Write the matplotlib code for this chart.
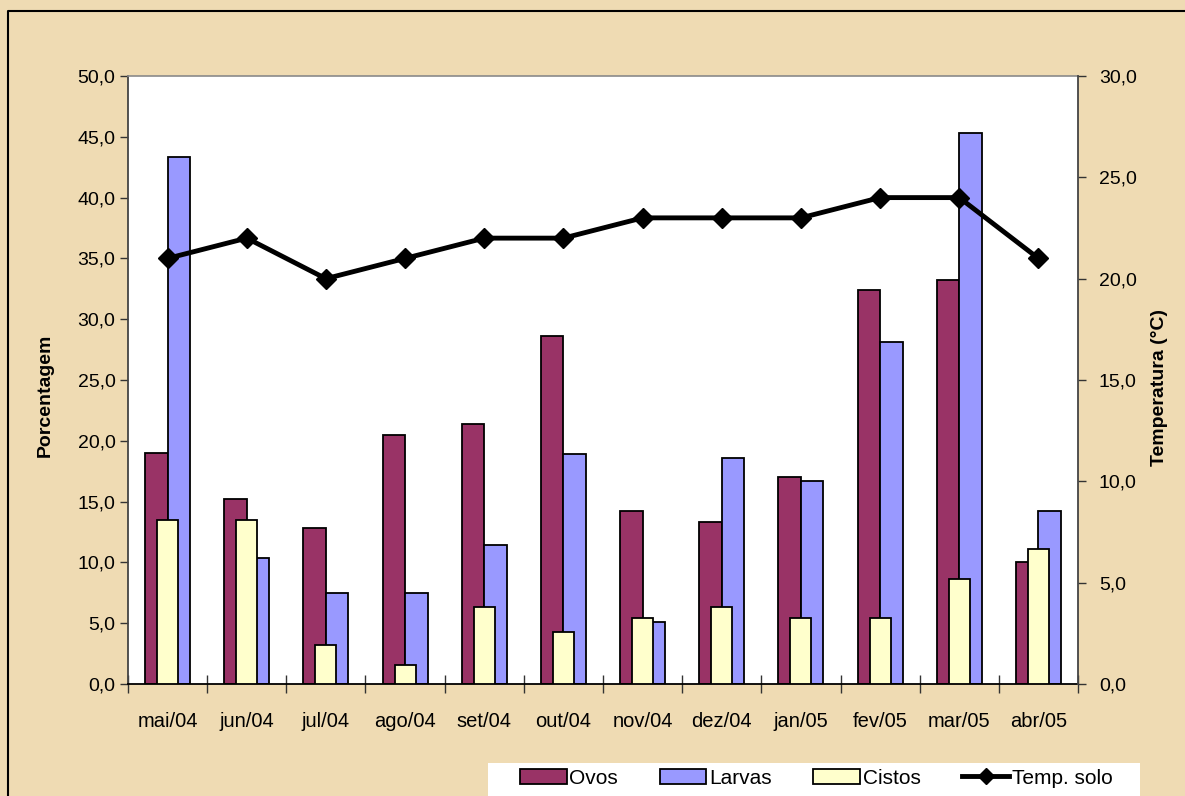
import matplotlib
matplotlib.use("Agg")
import matplotlib.pyplot as plt
from matplotlib.lines import Line2D
from matplotlib.patches import Patch, Rectangle
import numpy as np

plt.rcParams['font.family'] = ['Liberation Sans', 'DejaVu Sans']

# Monthly sampling
meses = ["mai/04", "jun/04", "jul/04", "ago/04", "set/04", "out/04",
         "nov/04", "dez/04", "jan/05", "fev/05", "mar/05", "abr/05"]

# Percentages per developmental stage
ovos = [19.0, 15.2, 12.8, 20.5, 21.4, 28.6, 14.2, 13.3, 17.0, 32.4, 33.2, 10.0]
larvas = [43.3, 10.4, 7.5, 7.5, 11.4, 18.9, 5.1, 18.6, 16.7, 28.1, 45.3, 14.2]
cistos = [13.5, 13.5, 3.2, 1.6, 6.3, 4.3, 5.4, 6.3, 5.4, 5.4, 8.6, 11.1]

# Soil temperature (°C)
temp_solo = [21.0, 22.0, 20.0, 21.0, 22.0, 22.0, 23.0, 23.0, 23.0, 24.0, 24.0, 21.0]

y_ticks = [0, 5, 10, 15, 20, 25, 30, 35, 40, 45, 50]
y2_ticks = [0, 5, 10, 15, 20, 25, 30]

C_OVOS = "#993366"
C_LARVAS = "#9999FF"
C_CISTOS = "#FFFFCC"
BG = "#EFDBB3"

W, H = 1185, 796
fig = plt.figure(figsize=(W / 100, H / 100), dpi=100)
fig.patch.set_facecolor(BG)

# chart-area frame (left and top edges)
fig.add_artist(Line2D([8 / W, 8 / W, 1.0], [0.0, 1 - 11 / H, 1 - 11 / H],
                      transform=fig.transFigure, color="black", lw=1.5))

ax = fig.add_axes([128 / W, 1 - 684 / H, 950 / W, 608 / H])
ax.set_facecolor("white")

x = np.arange(len(meses))
bw = 0.284
ax.bar(x - bw / 2, ovos, width=bw, color=C_OVOS, edgecolor="black", lw=1.3, zorder=2)
ax.bar(x + bw / 2, larvas, width=bw, color=C_LARVAS, edgecolor="black", lw=1.3, zorder=2)
ax.bar(x, cistos, width=0.265, color=C_CISTOS, edgecolor="black", lw=1.3, zorder=3)

ax.set_xlim(-0.5, len(meses) - 0.5)
ax.set_ylim(0, 50)
ax.set_yticks(y_ticks)
ax.set_yticklabels([f"{v:.1f}".replace(".", ",") for v in y_ticks], fontsize=14)
ax.tick_params(axis="y", direction="out", length=6, width=1, pad=3, color="#333333")

ax.set_xticks(x)
ax.set_xticklabels(meses, fontsize=14.5)
ax.tick_params(axis="x", which="major", length=0, pad=20)
ax.set_xticks(np.arange(-0.5, len(meses)), minor=True)
ax.tick_params(axis="x", which="minor", direction="inout", length=13, width=1, color="#333333")

ax.spines["top"].set_color("#8a8a8a")
ax.spines["top"].set_linewidth(1.2)
ax.spines["left"].set_color("#444444")
ax.spines["left"].set_linewidth(1.3)
ax.spines["bottom"].set_color("black")
ax.spines["bottom"].set_linewidth(1.3)
ax.spines["right"].set_visible(False)

ax2 = ax.twinx()
ax2.plot(x, temp_solo, color="black", lw=3.5, marker="D", markersize=10,
         markerfacecolor="black", zorder=5)
ax2.set_ylim(0, 30)
ax2.set_yticks(y2_ticks)
ax2.set_yticklabels([f"{v:.1f}".replace(".", ",") for v in y2_ticks], fontsize=14)
ax2.tick_params(axis="y", direction="out", length=6, width=1, pad=9, color="#333333")
for s in ("top", "left", "bottom"):
    ax2.spines[s].set_visible(False)
ax2.spines["right"].set_color("#444444")
ax2.spines["right"].set_linewidth(1.3)

fig.text(45 / W, 1 - 395 / H, "Porcentagem", rotation=90, fontsize=14,
         fontweight="bold", ha="center", va="center")
fig.text(1160 / W, 1 - 387 / H, "Temperatura (°C)", rotation=90, fontsize=14,
         fontweight="bold", ha="center", va="center")

# legend box at the bottom right
fig.add_artist(Rectangle((488 / W, 0), (1140 - 488) / W, (796 - 763) / H,
                         transform=fig.transFigure, facecolor="white",
                         edgecolor="none", zorder=1))
handles = [
    Patch(facecolor=C_OVOS, edgecolor="black", lw=1.3),
    Patch(facecolor=C_LARVAS, edgecolor="black", lw=1.3),
    Patch(facecolor=C_CISTOS, edgecolor="black", lw=1.3),
    Line2D([], [], color="black", lw=3.5, marker="D", markersize=8),
]
labels = ["Ovos", "Larvas", "Cistos", "Temp. solo"]
leg = fig.legend(handles, labels, loc="center", ncol=4, frameon=False,
                 bbox_to_anchor=(816 / W, 1 - 778 / H), fontsize=15,
                 handlelength=2.25, handleheight=0.75, handletextpad=0.12,
                 columnspacing=2.0)
leg.set_zorder(2)

fig.savefig("out.png", dpi=100, facecolor=BG)
